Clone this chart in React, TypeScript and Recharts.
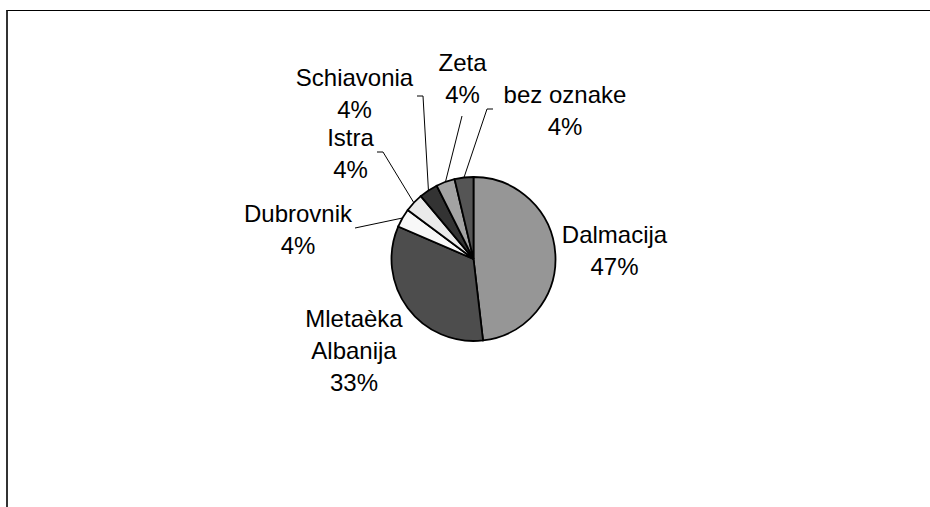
import React from 'react';
import { PieChart, Pie, Cell } from 'recharts';

// Categories (label text lines as printed in the chart)
const categories = ['Dalmacija', 'Mletaèka Albanija', 'Dubrovnik', 'Istra', 'Schiavonia', 'Zeta', 'bez oznake'];
const categoryLines = [['Dalmacija'], ['Mletaèka', 'Albanija'], ['Dubrovnik'], ['Istra'], ['Schiavonia'], ['Zeta'], ['bez oznake']];
// Slice sizes
const sliceValues = [13, 9, 1, 1, 1, 1, 1];
// Percent labels as printed
const percentLabels = ['47%', '33%', '4%', '4%', '4%', '4%', '4%'];
const sliceColors = ['#969696', '#4d4d4d', '#f8f8f8', '#eaeaea', '#333333', '#a3a3a3', '#555555'];

// Label placement relative to pie centre: [text dx, first baseline dy]
const labelPlacement: [number, number][] = [
  [141, -16],
  [-119.5, 67.5],
  [-175.5, -37.5],
  [-123, -113.5],
  [-119, -173],
  [-11, -188],
  [91.5, -156.5],
];
// Leader line start points relative to centre (null = no leader line)
const leaderPoints: ([number, number][] | null)[] = [
  null,
  null,
  [[-118.5, -31]],
  [[-96.5, -107], [-90.5, -107]],
  [[-56.5, -163], [-50.5, -163]],
  [[-11.5, -143]],
  [[19.5, -150], [13.5, -150]],
];

const data = categories.map((name, i) => ({ name, value: sliceValues[i] }));

const RAD = Math.PI / 180;
const LINE_H = 32.4;

const renderLabel = (props: any) => {
  const { cx, cy, midAngle, outerRadius, index } = props;
  const [dx, dy] = labelPlacement[index];
  const lines = [...categoryLines[index], percentLabels[index]];
  const lp = leaderPoints[index];
  let path: string | null = null;
  if (lp) {
    const ex = cx + outerRadius * Math.cos(-midAngle * RAD);
    const ey = cy + outerRadius * Math.sin(-midAngle * RAD);
    path = lp.map((p, k) => `${k === 0 ? 'M' : 'L'}${cx + p[0]},${cy + p[1]}`).join(' ') + ` L${ex},${ey}`;
  }
  return (
    <g key={`lbl-${index}`}>
      {path && <path d={path} stroke="#000" strokeWidth={1} fill="none" />}
      {lines.map((t, k) => (
        <text
          key={k}
          x={cx + dx}
          y={cy + dy + k * LINE_H}
          textAnchor="middle"
          fontFamily="'Liberation Sans', Arial, sans-serif"
          fontSize={24}
          fill="#000"
        >
          {t}
        </text>
      ))}
    </g>
  );
};

export default function App() {
  return (
    <div style={{ position: 'absolute', left: 0, top: 0, width: 930, height: 507, background: '#fff', overflow: 'hidden' }}>
      <div
        style={{
          position: 'absolute',
          left: 6,
          top: 10,
          width: 940,
          height: 520,
          borderTop: '1px solid #000',
          borderLeft: '2px solid #333',
          boxSizing: 'border-box',
        }}
      />
      <div style={{ position: 'absolute', left: 0, top: 0 }}>
        <PieChart width={930} height={507} margin={{ top: 0, right: 0, bottom: 0, left: 0 }}>
          <Pie
            data={data}
            dataKey="value"
            nameKey="name"
            cx={473.5}
            cy={259}
            outerRadius={82}
            startAngle={90}
            endAngle={-270}
            stroke="#000"
            strokeWidth={1.8}
            isAnimationActive={false}
            label={renderLabel}
            labelLine={false}
          >
            {data.map((d, i) => (
              <Cell key={d.name} fill={sliceColors[i]} />
            ))}
          </Pie>
        </PieChart>
      </div>
    </div>
  );
}
